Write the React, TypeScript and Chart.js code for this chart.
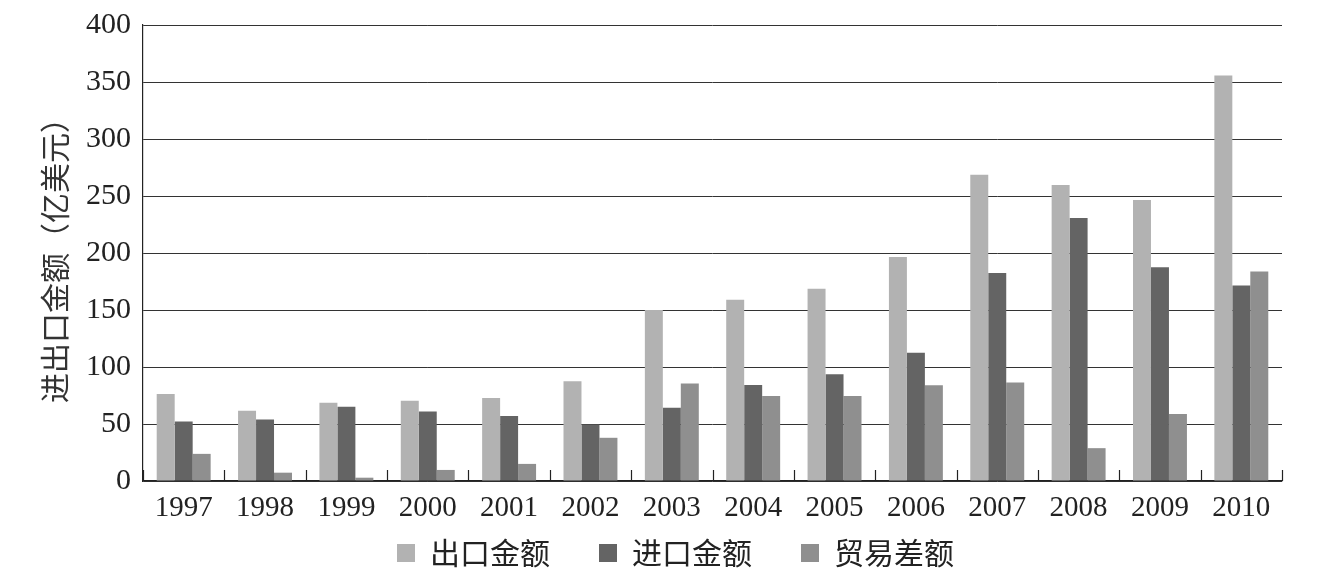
import React, { useEffect, useRef } from 'react';
import { Chart, registerables } from 'chart.js';

Chart.register(...registerables);

const years = ['1997', '1998', '1999', '2000', '2001', '2002', '2003', '2004', '2005', '2006', '2007', '2008', '2009', '2010'];
const exportValues = [76.4, 61.7, 68.7, 70.5, 72.8, 87.5, 150.0, 158.9, 168.6, 196.5, 268.7, 259.6, 246.4, 355.7];
const importValues = [52.3, 54.0, 65.2, 61.0, 57.0, 49.6, 64.3, 84.3, 93.7, 112.5, 182.4, 230.8, 187.4, 171.5];
const balanceValues = [23.8, 7.3, 2.9, 9.7, 15.0, 37.9, 85.5, 74.6, 74.6, 84.0, 86.3, 28.8, 58.7, 183.8];
const seriesNames = ['出口金额', '进口金额', '贸易差额'];
const seriesColors = ['#b2b2b2', '#646464', '#8f8f8f'];
const yAxisTitle = '进出口金额（亿美元）';
const yMin = 0;
const yMax = 400;
const yStep = 50;

const FONT = '"Liberation Serif", "Noto Sans CJK SC", serif';
const CJK = '"Noto Sans CJK SC", "Liberation Serif", sans-serif';

const innerTicks = {
  id: 'innerTicks',
  afterDatasetsDraw(chart: any) {
    const x = chart.scales.x;
    const bottom = chart.chartArea.bottom;
    const n = chart.data.labels.length;
    const step = x.getPixelForValue(1) - x.getPixelForValue(0);
    const ctx = chart.ctx;
    ctx.save();
    ctx.strokeStyle = '#222';
    ctx.lineWidth = 1.2;
    for (let i = 0; i <= n; i++) {
      const px = Math.round(x.getPixelForValue(i) - step / 2) + 0.5;
      ctx.beginPath();
      ctx.moveTo(px, bottom);
      ctx.lineTo(px, bottom - 11);
      ctx.stroke();
    }
    ctx.restore();
  },
};

export default function App() {
  const ref = useRef<HTMLCanvasElement | null>(null);
  useEffect(() => {
    document.body.style.margin = '0';
    if (!ref.current) return;
    const chart = new Chart(ref.current, {
      type: 'bar',
      data: {
        labels: years,
        datasets: [exportValues, importValues, balanceValues].map((d, i) => ({
          label: seriesNames[i],
          data: d,
          backgroundColor: seriesColors[i],
          borderWidth: 0,
          barPercentage: 1,
          categoryPercentage: 0.663,
        })),
      },
      options: {
        animation: false,
        responsive: false,
        devicePixelRatio: 1,
        layout: { padding: { top: 25, right: 0, left: 34, bottom: 5 } },
        plugins: {
          tooltip: { enabled: false },
          legend: {
            position: 'bottom',
            labels: {
              boxWidth: 18,
              boxHeight: 18,
              padding: 19,
              color: '#222',
              font: { family: CJK, size: 30 },
              generateLabels(chart: any) {
                const items = Chart.defaults.plugins.legend.labels.generateLabels(chart);
                return items.map((it: any, i: number) => ({
                  ...it,
                  lineWidth: 0,
                  text: i < items.length - 1 ? it.text + '\u3000' : it.text,
                }));
              },
            },
          },
        },
        scales: {
          x: {
            grid: { display: false, drawTicks: false },
            border: { display: true, color: '#222', width: 1.2 },
            ticks: {
              color: '#222',
              padding: 10,
              maxRotation: 0,
              autoSkip: false,
              font: { family: FONT, size: 29 },
            },
            afterFit(scale: any) {
              scale.height = 38;
            },
          },
          y: {
            min: yMin,
            max: yMax,
            grid: { color: '#333', lineWidth: 1, drawTicks: false },
            border: { display: true, color: '#222', width: 1.2 },
            ticks: {
              stepSize: yStep,
              color: '#222',
              padding: 12,
              font: { family: FONT, size: 30, lineHeight: 0.86 },
            },
            title: {
              display: true,
              text: yAxisTitle,
              color: '#333',
              padding: { top: 3, bottom: 0 },
              font: { family: CJK, size: 30 },
            },
            afterFit(scale: any) {
              scale.width = 109;
            },
          },
          yRight: {
            position: 'right',
            display: true,
            grid: { display: false, drawTicks: false },
            border: { display: false },
            ticks: { display: false },
            afterFit(scale: any) {
              scale.width = 35;
            },
          },
        },
      },
      plugins: [innerTicks],
    });
    return () => chart.destroy();
  }, []);
  return (
    <div style={{ width: 1317, height: 583 }}>
      <canvas ref={ref} width={1317} height={583} style={{ width: 1317, height: 583, display: 'block' }} />
    </div>
  );
}
